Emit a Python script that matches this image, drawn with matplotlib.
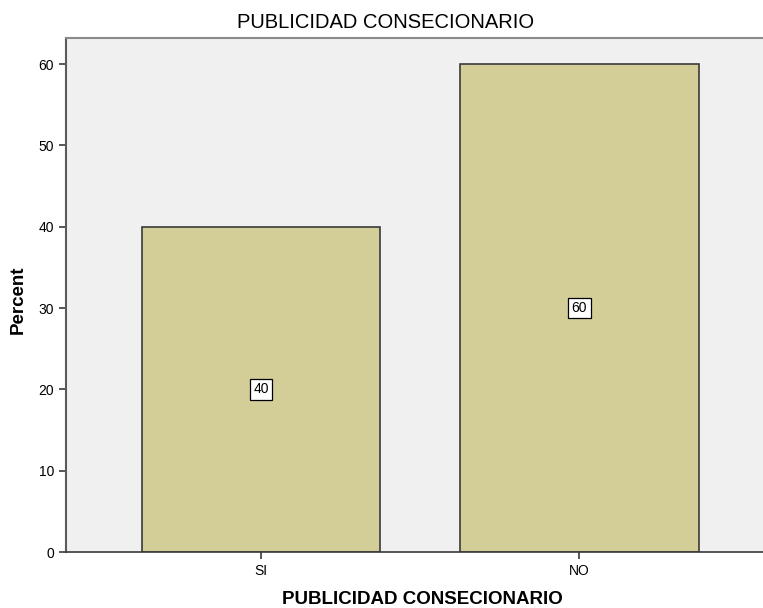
import matplotlib.pyplot as plt

categorias = ['SI', 'NO']
porcentajes = [40, 60]

plt.rcParams['font.family'] = ['Liberation Sans', 'DejaVu Sans']

fig = plt.figure(figsize=(7.63, 6.08), dpi=100)
ax = fig.add_axes([66 / 763, 56 / 608, 1 - 66 / 763, (552 - 38) / 608])
ax.set_facecolor('#F0F0F0')

x = range(len(categorias))
ax.bar(x, porcentajes, width=0.75, color='#D3CD97', edgecolor='#3A3A3A', linewidth=1.2)

# etiquetas en el centro de cada barra
for i, v in zip(x, porcentajes):
    ax.text(i, v / 2, str(v), ha='center', va='center', fontsize=10,
            bbox=dict(boxstyle='square,pad=0.25', facecolor='white', edgecolor='black', linewidth=0.9))

ax.set_xticks(list(x))
ax.set_xticklabels(categorias)
ax.set_xlim(-0.613, 1.577)
ax.set_ylim(0, 63.2)
ax.set_yticks(range(0, 61, 10))
ax.tick_params(labelsize=10, length=5, width=1.2, color='#3A3A3A')

ax.spines['right'].set_visible(False)
ax.spines['top'].set_color('#8A8A8A')
ax.spines['top'].set_linewidth(1.5)
ax.spines['left'].set_color('#5A5A5A')
ax.spines['left'].set_linewidth(1.5)
ax.spines['bottom'].set_color('#3A3A3A')
ax.spines['bottom'].set_linewidth(1.2)

ax.set_ylabel('Percent', fontsize=13.5, fontweight='bold')
ax.yaxis.set_label_coords(-0.057, 0.49)
ax.set_xlabel('PUBLICIDAD CONSECIONARIO', fontsize=13.5, fontweight='bold')
ax.xaxis.set_label_coords(0.511, -0.075)
fig.text(386 / 763, 1 - 22 / 608, 'PUBLICIDAD CONSECIONARIO', ha='center', va='center',
         fontsize=14.5)

fig.savefig('out.png', dpi=100)
